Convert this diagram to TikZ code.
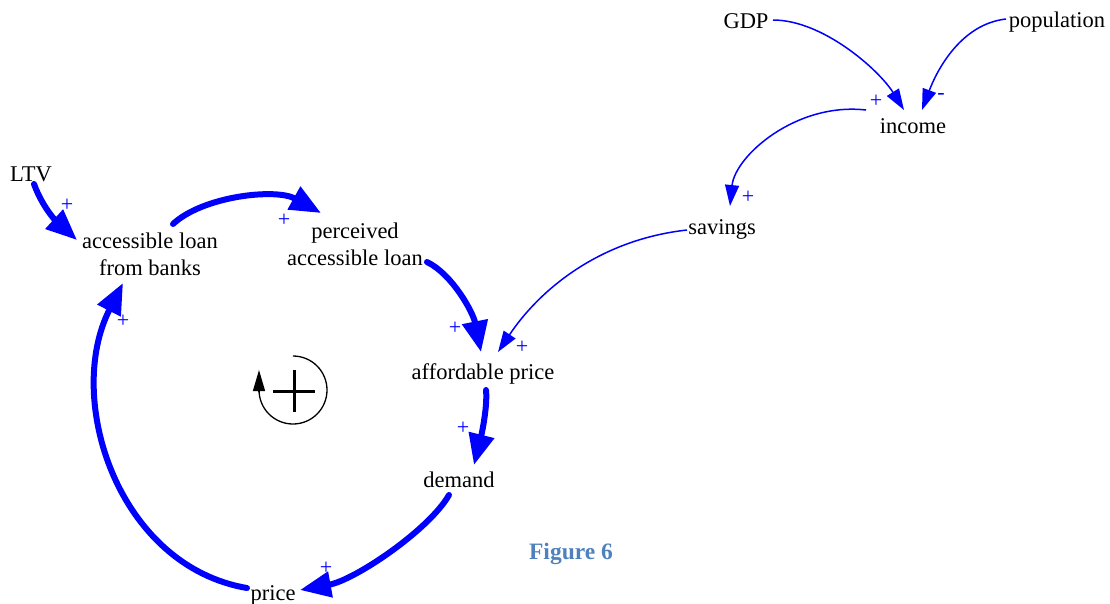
\documentclass[tikz,border=0pt]{standalone}
\usepackage{fontspec}
\setmainfont{Liberation Serif}
\usetikzlibrary{arrows.meta,calc}
\definecolor{figblue}{RGB}{79,129,189}
\begin{document}
\begin{tikzpicture}[x=1pt,y=-1pt,
  var/.style={font=\fontsize{22.5}{27}\selectfont, align=center, anchor=base, inner sep=0pt},
  strong link/.style={draw=blue, line width=6pt, line cap=round, -{Triangle[length=31pt,width=25pt]}},
  weak link/.style={draw=blue, line width=1.5pt, -{Triangle[length=21pt,width=14pt]}},
  pol/.style={text=blue, font=\fontsize{22}{22}\selectfont, inner sep=0pt}]
\useasboundingbox (0,0) rectangle (1110,603);

% variables
\node[var] (gdp)   at (746,28)  {GDP};
\node[var] (pop)   at (1057,27) {population};
\node[var] (inc)   at (913,133) {income};
\node[var] (ltv)   at (31,181)  {LTV};
\node[var] (sav)   at (722,234) {savings};
\node[var] (alb)   at (150,275) {accessible loan\\from banks};
\node[var] (pal)   at (355,265) {perceived\\accessible loan};
\node[var] (ap)    at (483,379) {affordable price};
\node[var] (dem)   at (459,487) {demand};
\node[var] (price) at (273,600) {price};
\node[font=\fontsize{23.5}{23.5}\selectfont\bfseries, text=figblue, anchor=base, inner sep=0pt] (fig) at (571,559) {Figure 6};

% thick loop links
\draw[strong link] ($(ltv.base)+(3,3)$) .. controls +(8,22) and +(-22,-20) .. ($(alb.base)+(-73,-35)$);
\draw[strong link] ($(alb.base)+(23,-51)$) .. controls +(30,-28) and +(-45,-25) .. ($(pal.base)+(-34,-52)$);
\draw[strong link] ($(pal.base)+(72,-3)$) .. controls +(25,12) and +(-8,-40) .. ($(ap.base)+(-2,-27)$);
\draw[strong link] ($(ap.base)+(3,11)$) .. controls +(2,20) and +(5,-20) .. ($(dem.base)+(15,-22)$);
\draw[strong link] ($(dem.base)+(-10,8)$) .. controls +(-20,35) and +(55,-10) .. ($(price.base)+(27,-10)$);
\draw[strong link] ($(price.base)+(-26,-12)$) .. controls +(-129,-22) and +(-59,116) .. ($(alb.base)+(-27,8)$);

% thin links
\draw[weak link] ($(gdp.base)+(27,-8)$) .. controls +(50,0) and +(-25,-40) .. ($(inc.base)+(-9,-23)$);
\draw[weak link] ($(pop.base)+(-51,-8)$) .. controls +(-45,5) and +(15,-40) .. ($(inc.base)+(9,-23)$);
\draw[weak link] ($(inc.base)+(-47,-23)$) .. controls +(-70,-8) and +(5,-50) .. ($(sav.base)+(8,-28)$);
\draw[weak link] ($(sav.base)+(-35,-4)$) .. controls +(-90,10) and +(40,-60) .. ($(ap.base)+(15,-27)$);

% polarities
\node[pol] (p1)  at (67,205)  {+};
\node[pol] (p2)  at (284,220) {+};
\node[pol] (p3)  at (455,328) {+};
\node[pol] (p4)  at (522,347) {+};
\node[pol] (p5)  at (463,428) {+};
\node[pol] (p6)  at (326,568) {+};
\node[pol] (p7)  at (123,321) {+};
\node[pol] (p8)  at (876,101) {+};
\node[pol] (p9)  at (941,96)  {-};
\node[pol] (p10) at (748,197) {+};

% loop symbol
\draw[line width=1.3pt] (293,390) ++(-90:34) arc[start angle=-90, end angle=180, radius=34]
  -- ++(0,-1);
\draw[line width=1.3pt, -{Triangle[length=21pt,width=12pt]}] (259,392) -- (259,370);
\draw[line width=3pt] (273,391) -- (315,391) (294,370) -- (294,412);
\end{tikzpicture}
\end{document}
